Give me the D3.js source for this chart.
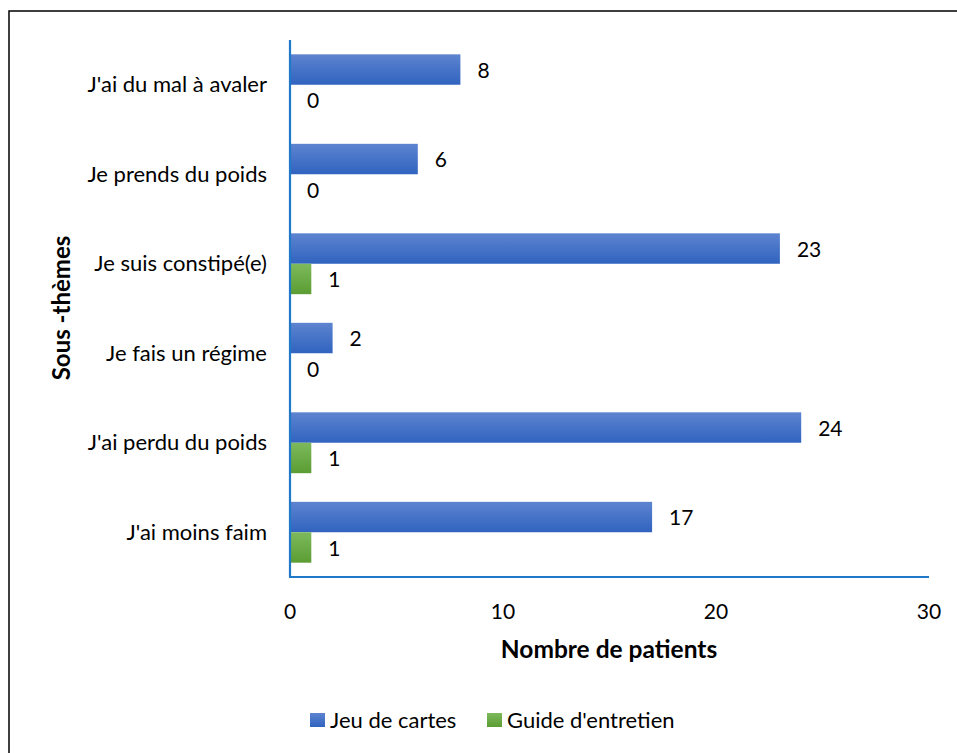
<!DOCTYPE html>
<html>
<head>
<meta charset="utf-8">
<script src="https://cdn.jsdelivr.net/npm/d3@7"></script>
<style>
  body { margin: 0; background: #fff; }
  text { font-family: Lato, "Open Sans", sans-serif; fill: #000; }
</style>
</head>
<body>
<div id="chart"></div>
<script>
const categories = ["J'ai du mal à avaler", "Je prends du poids", "Je suis constipé(e)", "Je fais un régime", "J'ai perdu du poids", "J'ai moins faim"];
const jeuCartes = [8, 6, 23, 2, 24, 17];
const guideEntretien = [0, 0, 1, 0, 1, 1];
const seriesNames = ["Jeu de cartes", "Guide d'entretien"];
const xTicks = [0, 10, 20, 30];

const width = 957, height = 753;
const svg = d3.select("#chart").append("svg")
  .attr("width", width)
  .attr("height", height);

// frame
svg.append("rect")
  .attr("x", 9).attr("y", 11)
  .attr("width", 960).attr("height", 760)
  .attr("fill", "none").attr("stroke", "#000").attr("stroke-width", 1.5);

const defs = svg.append("defs");
const gBlue = defs.append("linearGradient").attr("id", "gBlue").attr("x1", 0).attr("x2", 0).attr("y1", 0).attr("y2", 1);
gBlue.append("stop").attr("offset", "0%").attr("stop-color", "#5d84d0");
gBlue.append("stop").attr("offset", "100%").attr("stop-color", "#3063bf");
const gGreen = defs.append("linearGradient").attr("id", "gGreen").attr("x1", 0).attr("x2", 0).attr("y1", 0).attr("y2", 1);
gGreen.append("stop").attr("offset", "0%").attr("stop-color", "#7db95c");
gGreen.append("stop").attr("offset", "100%").attr("stop-color", "#5b9d33");

const x = d3.scaleLinear().domain([0, 30]).range([290, 929]);
const y = d3.scaleBand().domain(categories).range([40, 577]).paddingInner(0.32).paddingOuter(0.16);
const sub = d3.scaleBand().domain(seriesNames).range([0, y.bandwidth()]);

const rows = categories.map((c, i) => ({ cat: c, vals: [jeuCartes[i], guideEntretien[i]] }));

const grp = svg.append("g").selectAll("g")
  .data(rows)
  .enter().append("g")
  .attr("transform", d => "translate(0," + y(d.cat) + ")");

grp.selectAll("rect")
  .data(d => d.vals.map((v, j) => ({ v: v, s: seriesNames[j], j: j })))
  .enter().append("rect")
  .attr("x", x(0))
  .attr("y", d => sub(d.s))
  .attr("width", d => x(d.v) - x(0))
  .attr("height", sub.bandwidth())
  .attr("fill", d => d.j === 0 ? "url(#gBlue)" : "url(#gGreen)");

grp.selectAll("text.val")
  .data(d => d.vals.map((v, j) => ({ v: v, s: seriesNames[j] })))
  .enter().append("text")
  .attr("class", "val")
  .attr("x", d => x(d.v) + 17)
  .attr("y", d => sub(d.s) + sub.bandwidth() / 2 + 1)
  .attr("dy", "0.35em")
  .attr("font-size", 21)
  .text(d => d.v);

// category labels
svg.append("g").selectAll("text")
  .data(categories)
  .enter().append("text")
  .attr("x", 267)
  .attr("y", d => y(d) + y.bandwidth() / 2)
  .attr("dy", "0.35em")
  .attr("text-anchor", "end")
  .attr("font-size", 22)
  .text(d => d);

// axes
const axisColor = "#1f78c8";
svg.append("line")
  .attr("x1", x(0)).attr("x2", x(0)).attr("y1", 40).attr("y2", 577)
  .attr("stroke", axisColor).attr("stroke-width", 2.2);
svg.append("line")
  .attr("x1", x(0) - 1).attr("x2", x(30)).attr("y1", 577).attr("y2", 577)
  .attr("stroke", axisColor).attr("stroke-width", 2.2);

svg.append("g").selectAll("text")
  .data(xTicks)
  .enter().append("text")
  .attr("x", d => x(d))
  .attr("y", 612)
  .attr("dy", "0.35em")
  .attr("text-anchor", "middle")
  .attr("font-size", 21)
  .text(d => d);

svg.append("text")
  .attr("x", 609).attr("y", 649)
  .attr("dy", "0.35em")
  .attr("text-anchor", "middle")
  .attr("font-size", 24.5)
  .attr("font-weight", "bold")
  .text("Nombre de patients");

svg.append("text")
  .attr("transform", "translate(62,308) rotate(-90)")
  .attr("dy", "0.35em")
  .attr("text-anchor", "middle")
  .attr("font-size", 24)
  .attr("font-weight", "bold")
  .text("Sous -thèmes");

// legend
const legend = svg.append("g").selectAll("g")
  .data(seriesNames)
  .enter().append("g")
  .attr("transform", (d, i) => "translate(" + (i === 0 ? 310 : 487) + ",713)");
legend.append("rect")
  .attr("width", 15).attr("height", 14)
  .attr("fill", (d, i) => i === 0 ? "url(#gBlue)" : "url(#gGreen)");
legend.append("text")
  .attr("x", 20).attr("y", 7)
  .attr("dy", "0.35em")
  .attr("font-size", 22)
  .text(d => d);
</script>
</body>
</html>
